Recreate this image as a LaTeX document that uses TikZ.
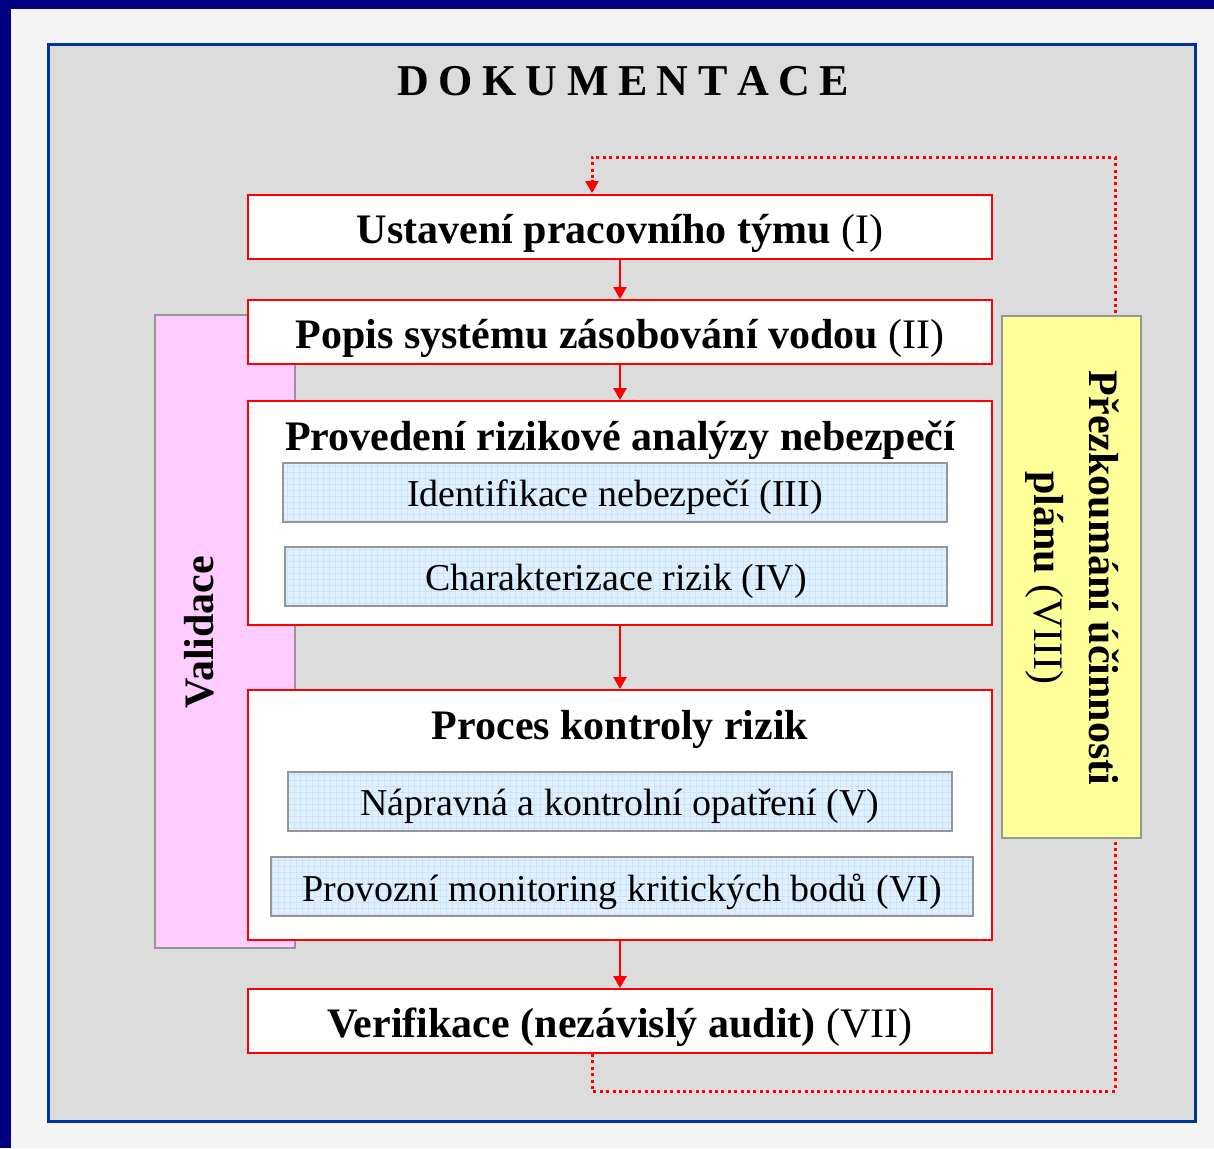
\documentclass[tikz,border=0pt]{standalone}
\usepackage{fontspec}
\setmainfont{Liberation Serif}
\usetikzlibrary{arrows.meta,calc}
\definecolor{navyband}{RGB}{0,0,128}
\definecolor{pagebg}{RGB}{244,244,244}
\definecolor{framebl}{RGB}{0,51,153}
\definecolor{panelgray}{RGB}{220,220,220}
\definecolor{boxred}{RGB}{255,0,0}
\definecolor{subblue}{RGB}{224,240,255}
\definecolor{gridblue}{RGB}{204,228,247}
\definecolor{subedge}{RGB}{150,150,150}
\definecolor{pinkfill}{RGB}{255,204,255}
\definecolor{yellowfill}{RGB}{255,255,153}
\newcommand{\lowtext}[1]{\raisebox{-5pt}[\height][\depth]{#1}}
\tikzset{
  mainbox/.style={draw=boxred, line width=2pt, fill=white, minimum width=744pt, inner sep=0pt},
  subbox/.style={draw=subedge, line width=1.5pt, fill=subblue, minimum height=59pt, inner sep=0pt,
    font=\fontsize{38}{44}\selectfont,
    path picture={\draw[gridblue, line width=0.6pt, step=6pt]
      (path picture bounding box.south west) grid (path picture bounding box.north east);}},
  sidebox/.style={draw=subedge, line width=1.5pt, inner sep=0pt},
  flow/.style={draw=boxred, line width=2.8pt, -{Triangle[width=13pt,length=12pt]}},
  loop/.style={draw=boxred, line width=3pt, dash pattern=on 3pt off 3.4pt},
  bigtext/.style={font=\fontsize{42}{50}\selectfont}
}
\begin{document}
\begin{tikzpicture}[x=1pt,y=-1pt]
\useasboundingbox (0,0) rectangle (1214,1148);
\fill[pagebg] (0,0) rectangle (1214,1148);
\fill[navyband] (0,0) rectangle (1214,9);
\fill[navyband] (0,0) rectangle (11,1148);
\draw[framebl, line width=3.5pt, fill=panelgray] (48.5,44.5) rectangle (1195.5,1121.5);

\node[font=\fontsize{44}{50}\selectfont\bfseries] (title) at (623,81)
  {D\hspace{9.5pt}O\hspace{9.5pt}K\hspace{9.5pt}U\hspace{9.5pt}M\hspace{9.5pt}E\hspace{9.5pt}N\hspace{9.5pt}T\hspace{9.5pt}A\hspace{9.5pt}C\hspace{9.5pt}E};

% feedback loop coordinates
\coordinate (c1) at (592,1091);
\coordinate (c2) at (1115,1091);
\coordinate (c3) at (1115,157);
\coordinate (c4) at (592,157);

% side boxes
\node[sidebox, fill=pinkfill, minimum width=140pt, minimum height=633pt] (valbox) at (225,631.5) {};
\node[font=\fontsize{42}{50}\selectfont\bfseries, rotate=90] (valtext) at (199,632) {Validace};

% main boxes
\node[mainbox, minimum height=64pt] (box1) at (620,227) {};
\node[bigtext] (t1) at (620,233) {\textbf{Ustavení pracovního týmu} (I)};
\node[mainbox, minimum height=64pt] (box2) at (620,332) {};
\node[bigtext] (t2) at (620,338) {\textbf{Popis systému zásobování vodou} (II)};
\node[mainbox, minimum height=224pt] (box3) at (620,513) {};
\node[font=\fontsize{42}{50}\selectfont\bfseries] (t3) at (620,440) {Provedení rizikové analýzy nebezpečí};
\node[subbox, minimum width=664pt] (sub3) at (615,492.5) {\lowtext{Identifikace nebezpečí (III)}};
\node[subbox, minimum width=662pt] (sub4) at (616,576.5) {\lowtext{Charakterizace rizik (IV)}};
\node[mainbox, minimum height=250pt] (box4) at (620,815) {};
\node[font=\fontsize{42}{50}\selectfont\bfseries] (t4) at (620,729) {Proces kontroly rizik};
\node[subbox, minimum width=664pt] (sub5) at (620,801.5) {\lowtext{Nápravná a kontrolní opatření (V)}};
\node[subbox, minimum width=702pt] (sub6) at (622,886.5) {\lowtext{Provozní monitoring kritických bodů (VI)}};
\node[mainbox, minimum height=64pt] (box7) at (620,1021) {};
\node[bigtext] (t7) at (620,1027) {\textbf{Verifikace (nezávislý audit)} (VII)};

% loop (behind yellow box)
\draw[loop] (box7.south -| c1) -- (c1) -- (c2) -- (c3) -- (c4) -- ($(box1.north -| c4)+(0,-1)$);
\path[draw=boxred, line width=3pt, -{Triangle[width=13pt,length=12pt]}] ($(box1.north -| c4)+(0,-14)$) -- ($(box1.north -| c4)+(0,-1)$);

\node[sidebox, fill=yellowfill, minimum width=139pt, minimum height=522pt] (ybox) at (1071.5,577) {};
\node[rotate=-90, align=center, font=\fontsize{42}{55}\selectfont] (ytext) at (1072,578)
  {\textbf{Přezkoumání účinnosti}\\\textbf{plánu} (VIII)};

% flow arrows
\draw[flow] (box1.south) -- (box2.north);
\draw[flow] (box2.south) -- (box3.north);
\draw[flow] (box3.south) -- (box4.north);
\draw[flow] (box4.south) -- (box7.north);
\end{tikzpicture}
\end{document}
